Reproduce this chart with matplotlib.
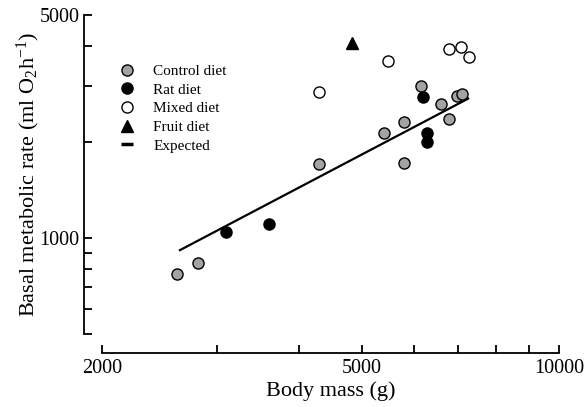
import matplotlib
matplotlib.use("Agg")
import matplotlib.pyplot as plt
from matplotlib.lines import Line2D
from matplotlib.ticker import FixedLocator, NullFormatter, FixedFormatter

plt.rcParams['font.family'] = ['Liberation Serif', 'DejaVu Serif']

# Data (body mass g, BMR ml O2/h)
control_mass = [2602, 2804, 4298, 5398, 5790, 5790, 6142, 6597, 6785, 6988, 7096]
control_bmr = [770, 832, 1700, 2138, 2309, 1721, 2991, 2624, 2366, 2782, 2837]
rat_mass = [3095, 3597, 6199, 6287, 6287]
rat_bmr = [1041, 1107, 2767, 2133, 1998]
mixed_mass = [4298, 5467, 6785, 7087, 7290]
mixed_bmr = [2870, 3584, 3917, 3956, 3698]
fruit_mass = [4818]
fruit_bmr = [4074]
expected_mass = [2632, 7263]
expected_bmr = [916, 2735]

x_major = [2000, 5000, 10000]
x_minor = [3000, 4000, 6000, 7000, 8000, 9000]
y_major = [1000, 5000]
y_minor = [500, 600, 700, 800, 900, 2000, 3000, 4000]

fig = plt.figure(figsize=(5.88, 4.07), dpi=100)
ax = fig.add_axes([102/588, 1-334/407, (559-102)/588, (334-15)/407])
ax.set_xscale('log')
ax.set_yscale('log')
ax.set_xlim(2000, 10000)
ax.set_ylim(500, 5000)

ms = 8
ax.plot(expected_mass, expected_bmr, color='black', lw=1.6, zorder=2)
ax.plot(control_mass, control_bmr, 'o', ms=ms, mfc='#a3a3a3', mec='black', mew=1.0, ls='none', zorder=3)
ax.plot(rat_mass, rat_bmr, 'o', ms=ms, mfc='black', mec='black', mew=1.0, ls='none', zorder=3)
ax.plot(mixed_mass, mixed_bmr, 'o', ms=ms, mfc='white', mec='black', mew=1.0, ls='none', zorder=3)
ax.plot(fruit_mass, fruit_bmr, '^', ms=ms, mfc='black', mec='black', mew=1.0, ls='none', zorder=3)

for s in ['top', 'right']:
    ax.spines[s].set_visible(False)
ax.spines['left'].set_position(('outward', 13))
ax.spines['bottom'].set_position(('outward', 14))
for s in ['left', 'bottom']:
    ax.spines[s].set_linewidth(1.3)

ax.xaxis.set_major_locator(FixedLocator(x_major))
ax.xaxis.set_major_formatter(FixedFormatter([str(v) for v in x_major]))
ax.xaxis.set_minor_locator(FixedLocator(x_minor))
ax.xaxis.set_minor_formatter(NullFormatter())
ax.yaxis.set_major_locator(FixedLocator(y_major))
ax.yaxis.set_major_formatter(FixedFormatter([str(v) for v in y_major]))
ax.yaxis.set_minor_locator(FixedLocator(y_minor))
ax.yaxis.set_minor_formatter(NullFormatter())
ax.tick_params(which='both', direction='in', width=1.3, labelsize=14.5)
ax.tick_params(axis='y', which='both', length=6)
ax.tick_params(axis='x', which='both', length=5.5)
ax.tick_params(axis='x', pad=4)
ax.tick_params(axis='y', pad=3)

ax.set_xlabel('Body mass (g)', fontsize=16, labelpad=2)
ax.set_ylabel(r'Basal metabolic rate (ml $\mathregular{O_2h^{-1}}$)', fontsize=16, labelpad=-1.5)

handles = [
    Line2D([], [], marker='o', ms=ms, mfc='#a3a3a3', mec='black', mew=1.0, ls='none'),
    Line2D([], [], marker='o', ms=ms, mfc='black', mec='black', mew=1.0, ls='none'),
    Line2D([], [], marker='o', ms=ms, mfc='white', mec='black', mew=1.0, ls='none'),
    Line2D([], [], marker='^', ms=ms, mfc='black', mec='black', mew=1.0, ls='none'),
    Line2D([], [], marker='_', ms=8, mec='black', mew=2.5, ls='none'),
]
labels = ['Control diet', 'Rat diet', 'Mixed diet', 'Fruit diet', 'Expected']
ax.legend(handles, labels, loc='upper left', bbox_to_anchor=(0.025, 0.865), frameon=False,
          fontsize=11, handlelength=1.0, handletextpad=1.2, labelspacing=0.33, borderaxespad=0)

fig.savefig('out.png', dpi=100)
